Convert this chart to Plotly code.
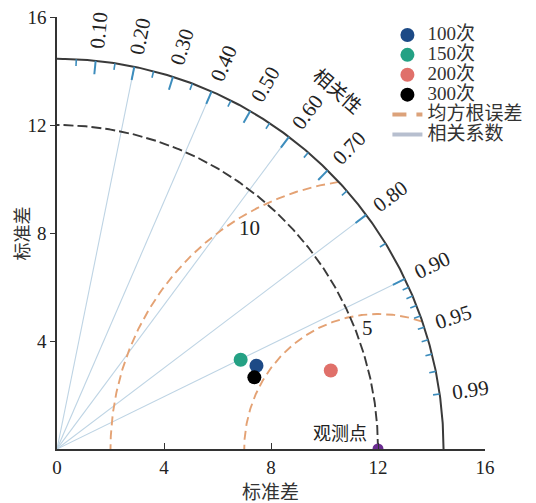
import numpy as np
import plotly.graph_objects as go

# ---------------- data ----------------
series_names = ["100次", "150次", "200次", "300次"]
series_colors = ["#1d4a86", "#24a184", "#e0706a", "#000000"]
series_std = [8.07, 7.62, 10.64, 7.84]
series_corr = [0.924, 0.901, 0.962, 0.941]

obs_std = 12.0
obs_corr = 1.0
obs_label = "观测点"

std_max = 14.45            # outer arc radius
rmse_levels = [5, 10]
rmse_labels = ["5", "10"]
rmse_name = "均方根误差"
corr_name = "相关系数"

corr_lines = [0.2, 0.4, 0.6, 0.8, 0.9]
corr_major = [0.1, 0.2, 0.3, 0.4, 0.5, 0.6, 0.7, 0.8, 0.9]
corr_minor = [0.05, 0.15, 0.25, 0.35, 0.45, 0.55, 0.65, 0.75, 0.85,
              0.91, 0.92, 0.93, 0.94, 0.95, 0.96, 0.97, 0.98, 0.99]
corr_label_vals = [0.1, 0.2, 0.3, 0.4, 0.5, 0.6, 0.7, 0.8, 0.9, 0.95, 0.99]
corr_tick_labels = ["0.10", "0.20", "0.30", "0.40", "0.50", "0.60", "0.70",
                    "0.80", "0.90", "0.95", "0.99"]

axis_ticks = [0, 4, 8, 12, 16]
axis_title = "标准差"
corr_title = "相关性"

SERIF = "Liberation Serif, Noto Sans CJK SC, serif"
CJK = "Noto Sans CJK SC, sans-serif"

fig = go.Figure()

def polar(r, c):
    th = np.arccos(np.asarray(c, dtype=float))
    return np.asarray(r) * np.cos(th), np.asarray(r) * np.sin(th)

def big(t):
    return '<span style="font-size:19px">' + t + '</span>'

# correlation lines
for c in corr_lines:
    x, y = polar([0, std_max], [c, c])
    fig.add_trace(go.Scatter(x=x, y=y, mode="lines",
                             line=dict(color="#bed4e4", width=1.1),
                             showlegend=False, hoverinfo="skip"))

# RMSE arcs centred on the observation
for R in rmse_levels:
    cphi = (std_max**2 - obs_std**2 - R**2) / (2 * obs_std * R)
    phi0 = np.arccos(np.clip(cphi, -1, 1))
    phi = np.linspace(phi0, np.pi, 200)
    fig.add_trace(go.Scatter(x=obs_std + R * np.cos(phi), y=R * np.sin(phi),
                             mode="lines",
                             line=dict(color="#e4a274", width=1.9, dash="9px,5px"),
                             showlegend=False, hoverinfo="skip"))

# reference std arc
ang = np.linspace(0, np.pi / 2, 300)
fig.add_trace(go.Scatter(x=obs_std * np.cos(ang), y=obs_std * np.sin(ang), mode="lines",
                         line=dict(color="#3a3a3a", width=1.9, dash="10px,4px"),
                         showlegend=False, hoverinfo="skip"))
# outer arc
fig.add_trace(go.Scatter(x=std_max * np.cos(ang), y=std_max * np.sin(ang), mode="lines",
                         line=dict(color="#3a3a3a", width=2),
                         showlegend=False, hoverinfo="skip"))

# correlation ticks on the outer arc
def tick_trace(vals, length, width):
    xs, ys = [], []
    for c in vals:
        x, y = polar([std_max, std_max - length], [c, c])
        xs += list(x) + [None]
        ys += list(y) + [None]
    return go.Scatter(x=xs, y=ys, mode="lines", line=dict(color="#3d8dbd", width=width),
                      showlegend=False, hoverinfo="skip")

fig.add_trace(tick_trace(corr_major, 0.5, 2))
fig.add_trace(tick_trace(corr_minor, 0.25, 1.6))

# observation point
ox, oy = polar([obs_std], [obs_corr])
fig.add_trace(go.Scatter(x=ox, y=oy, mode="markers",
                         marker=dict(color="#6a2d90", size=11),
                         showlegend=False, hoverinfo="skip"))

# model points
for i, (n, col, s, c) in enumerate(zip(series_names, series_colors, series_std, series_corr)):
    x, y = polar([s], [c])
    fig.add_trace(go.Scatter(x=x, y=y, mode="markers", name=big(n),
                             marker=dict(color=col, size=14),
                             legendrank=i + 1))

# legend-only entries for line styles
fig.add_trace(go.Scatter(x=[None], y=[None], mode="lines", name=big(rmse_name),
                         line=dict(color="#dca27a", width=4, dash="14px,10px"),
                         legendrank=5))
fig.add_trace(go.Scatter(x=[None], y=[None], mode="lines", name=big(corr_name),
                         line=dict(color="#b7bfcf", width=4),
                         legendrank=6))

annotations = []
# correlation tick labels
for c, t in zip(corr_label_vals, corr_tick_labels):
    x, y = polar([15.6], [c])
    annotations.append(dict(x=float(x[0]), y=float(y[0]), xref="x", yref="y", text=t,
                            showarrow=False, textangle=-np.degrees(np.arccos(c)),
                            font=dict(family=SERIF, size=21, color="#222")))
# 相关性
x, y = polar([16.95], [0.62])
annotations.append(dict(x=float(x[0]), y=float(y[0]), xref="x", yref="y", text=corr_title,
                        showarrow=False, textangle=41,
                        font=dict(family=CJK, size=19, color="#222")))
# RMSE labels
annotations.append(dict(x=7.2, y=8.18, xref="x", yref="y", text=rmse_labels[1],
                        showarrow=False, font=dict(family=SERIF, size=21, color="#222")))
annotations.append(dict(x=11.62, y=4.5, xref="x", yref="y", text=rmse_labels[0],
                        showarrow=False, font=dict(family=SERIF, size=21, color="#222")))
# observation label
annotations.append(dict(x=10.58, y=0.62, xref="x", yref="y", text=obs_label,
                        showarrow=False, font=dict(family=CJK, size=18, color="#222")))
# axis titles
annotations.append(dict(x=0.498, y=-0.095, xref="paper", yref="paper", text=axis_title,
                        xanchor="center", yanchor="middle",
                        showarrow=False, font=dict(family=CJK, size=19, color="#333")))
annotations.append(dict(x=-0.083, y=0.5, xref="paper", yref="paper", text=axis_title,
                        xanchor="center", yanchor="middle",
                        showarrow=False, textangle=-90,
                        font=dict(family=CJK, size=18, color="#333")))

fig.update_layout(
    width=528, height=495,
    margin=dict(l=49, r=51, t=9, b=54, autoexpand=False),
    paper_bgcolor="white", plot_bgcolor="white",
    showlegend=True,
    legend=dict(x=0.772, y=0.993, xanchor="left", yanchor="top",
                bgcolor="rgba(0,0,0,0)", font=dict(family=SERIF, size=13, color="#333"),
                tracegroupgap=0),
    annotations=annotations,
    xaxis=dict(range=[0, 16], tickvals=axis_ticks, ticks="inside", ticklen=6,
               tickcolor="#333", showline=True, linecolor="#333", linewidth=1.5,
               showgrid=False, zeroline=False, automargin=False,
               ticklabeloverflow="allow",
               tickfont=dict(family=SERIF, size=19, color="#222")),
    yaxis=dict(range=[0, 16], tickvals=axis_ticks[1:], ticks="outside", ticklen=5,
               tickcolor="#333", showline=True, linecolor="#333", linewidth=1.5,
               showgrid=False, zeroline=False, automargin=False,
               ticklabeloverflow="allow",
               tickfont=dict(family=SERIF, size=19, color="#222")),
)

fig.write_html("out.html")
